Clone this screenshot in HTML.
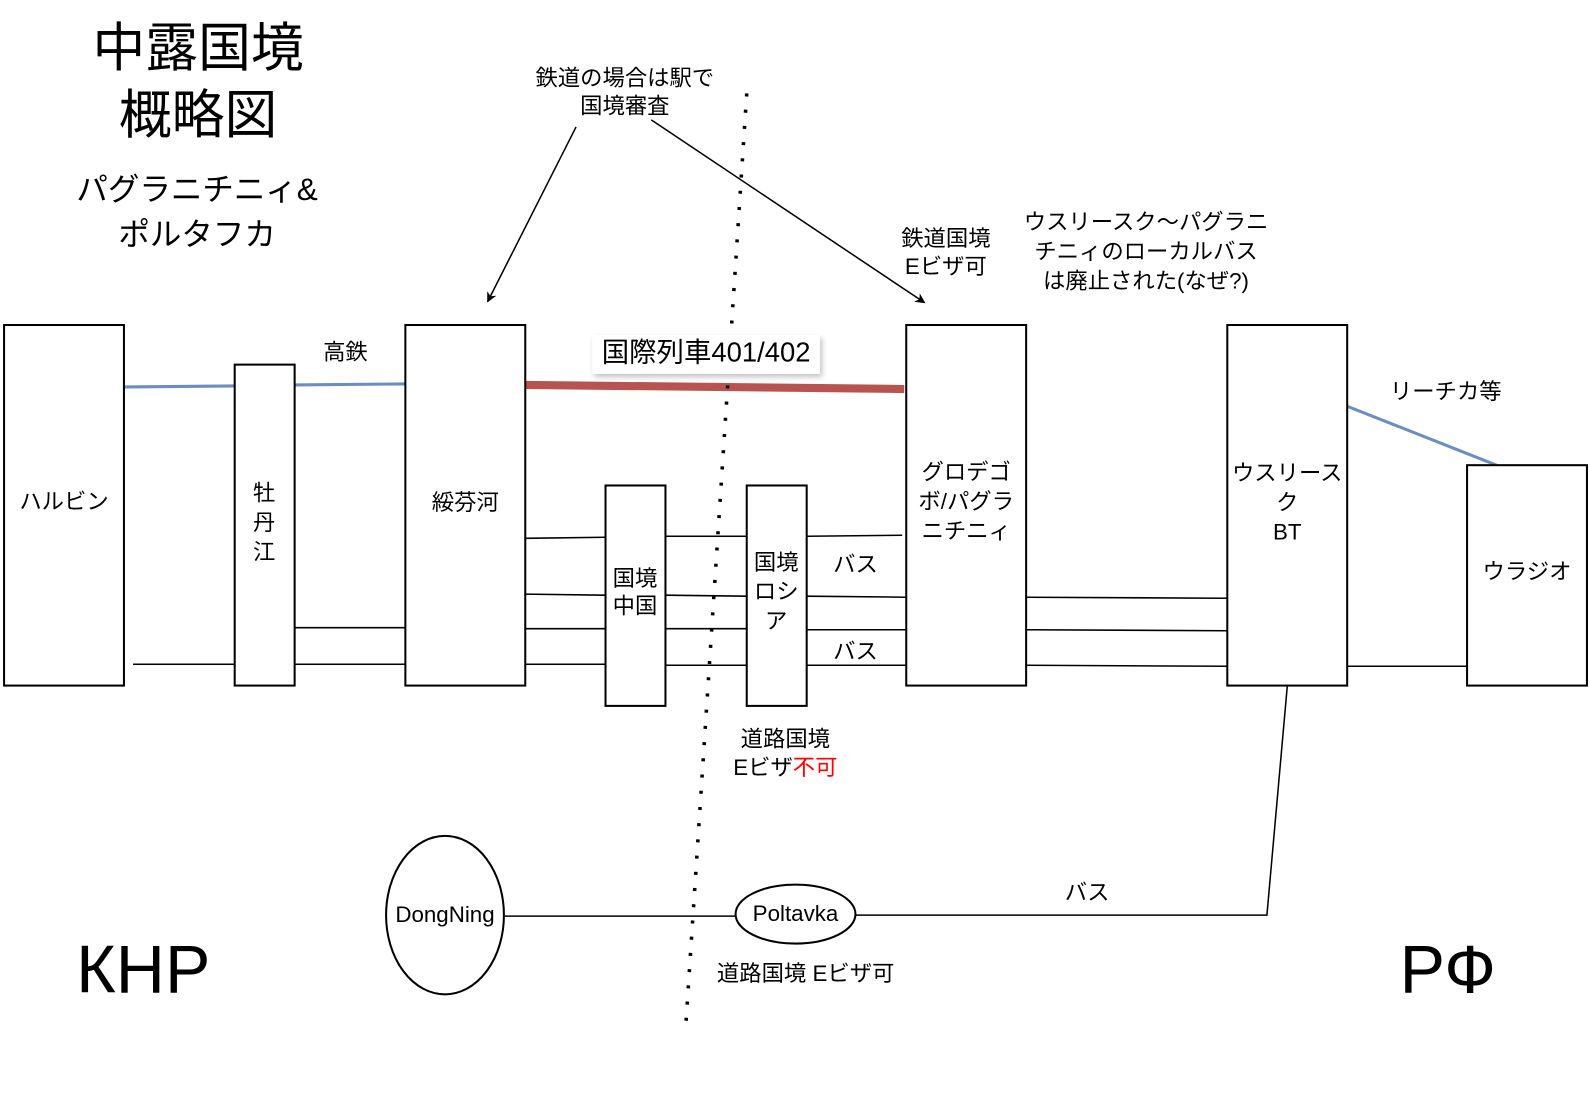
<!DOCTYPE html>
<html><head><meta charset="utf-8"><style>
html,body{margin:0;padding:0;background:#fff;}
svg{display:block;}
text{font-family:"Liberation Sans","Noto Sans CJK JP",sans-serif;fill:#000;}
</style></head><body>
<svg width="1590" height="1102" viewBox="0 0 1565 1085" preserveAspectRatio="none" xmlns="http://www.w3.org/2000/svg">
<defs>
<marker id="ah" markerWidth="10" markerHeight="10" refX="9" refY="5" orient="auto" markerUnits="userSpaceOnUse">
<path d="M0,0 L10,5 L0,10 L3,5 z" fill="#000"/></marker>
<filter id="sh" x="-10%" y="-30%" width="120%" height="160%"><feDropShadow dx="2" dy="3" stdDeviation="3" flood-color="#000" flood-opacity="0.25"/></filter>
</defs>
<g stroke="#000" stroke-width="1.5" fill="none">
<line x1="131" y1="654" x2="231" y2="654"/>
<line x1="290" y1="618" x2="399" y2="618"/>
<line x1="290" y1="654" x2="399" y2="654"/>
<line x1="517" y1="530" x2="596" y2="529"/>
<line x1="517" y1="585" x2="596" y2="586"/>
<line x1="517" y1="619" x2="596" y2="619"/>
<line x1="517" y1="654" x2="596" y2="654"/>
<line x1="655" y1="528" x2="735" y2="528"/>
<line x1="655" y1="586" x2="735" y2="587"/>
<line x1="655" y1="619" x2="735" y2="619"/>
<line x1="655" y1="655" x2="735" y2="655"/>
<line x1="794" y1="528" x2="888" y2="527"/>
<line x1="794" y1="587" x2="892" y2="588"/>
<line x1="794" y1="620" x2="892" y2="620"/>
<line x1="794" y1="655" x2="892" y2="655"/>
<line x1="1010" y1="588" x2="1208" y2="589"/>
<line x1="1010" y1="620" x2="1208" y2="621"/>
<line x1="1010" y1="655" x2="1208" y2="656"/>
<line x1="1326" y1="656" x2="1444" y2="656"/>
<line x1="497" y1="902" x2="724" y2="902"/>
<polyline points="842,901 1247,901 1267,676"/>
<line x1="567" y1="125" x2="480" y2="297" marker-end="url(#ah)"/>
<line x1="641" y1="118" x2="910" y2="298" marker-end="url(#ah)"/>
</g>
<line x1="122" y1="381" x2="231" y2="380" stroke="#6c8ebf" stroke-width="3"/>
<line x1="290" y1="379" x2="399" y2="378" stroke="#6c8ebf" stroke-width="3"/>
<line x1="1326" y1="400" x2="1473" y2="458" stroke="#6c8ebf" stroke-width="3"/>
<line x1="517" y1="379" x2="890" y2="383" stroke="#b85450" stroke-width="8"/>
<line x1="735" y1="92" x2="675" y2="1010" stroke="#000" stroke-width="3.5" stroke-dasharray="3,13"/>
<g stroke="#000" stroke-width="2" fill="#fff">
<rect x="4" y="320" width="118" height="355"/>
<rect x="231" y="359" width="59" height="316"/>
<rect x="399" y="320" width="118" height="355"/>
<rect x="596" y="478" width="59" height="217"/>
<rect x="735" y="478" width="59" height="217"/>
<rect x="892" y="320" width="118" height="355"/>
<rect x="1208" y="320" width="118" height="355"/>
<rect x="1444" y="458" width="118" height="217"/>
<ellipse cx="438" cy="901" rx="58" ry="78"/>
<ellipse cx="783" cy="900" rx="59" ry="29"/>
</g>
<rect x="583" y="330" width="224" height="38" fill="#fff" filter="url(#sh)"/>
<text x="695" y="356" font-size="27" text-anchor="middle">国際列車401/402</text>
<g font-size="52" text-anchor="middle">
<text x="195" y="65">中露国境</text>
<text x="195" y="131">概略図</text>
</g>
<g font-size="31" text-anchor="middle">
<text x="194" y="197">パグラニチニィ&amp;</text>
<text x="194" y="241">ポルタフカ</text>
</g>
<g font-size="67" text-anchor="middle">
<text x="141" y="977">КНР</text>
<text x="1425" y="977">РФ</text>
</g>
<g font-size="22" text-anchor="middle">
<text x="63" y="501">ハルビン</text>
<text x="260" y="493">牡</text><text x="260" y="522">丹</text><text x="260" y="551">江</text>
<text x="458" y="502">綏芬河</text>
<text x="340" y="354">高鉄</text>
<text x="625" y="577">国境</text><text x="625" y="604">中国</text>
<text x="764" y="561">国境</text><text x="764" y="590">ロシ</text><text x="764" y="619">ア</text>
<text x="842" y="563">バス</text>
<text x="842" y="649">バス</text>
<text x="951" y="472">グロデゴ</text><text x="951" y="501">ボ/パグラ</text><text x="951" y="530">ニチニィ</text>
<text x="1267" y="473">ウスリース</text><text x="1267" y="502">ク</text><text x="1267" y="531">BT</text>
<text x="1503" y="570">ウラジオ</text>
<text x="1423" y="393">リーチカ等</text>
<text x="615" y="84">鉄道の場合は駅で</text>
<text x="615" y="112">国境審査</text>
<text x="931" y="242">鉄道国境</text>
<text x="931" y="270">Eビザ可</text>
<text x="1128" y="226">ウスリースク〜パグラニ</text>
<text x="1128" y="255">チニィのローカルバス</text>
<text x="1128" y="284">は廃止された(なぜ?)</text>
<text x="773" y="735">道路国境</text>
<text x="773" y="763">Eビザ<tspan fill="#ff0000">不可</tspan></text>
<text x="438" y="908">DongNing</text>
<text x="783" y="907">Poltavka</text>
<text x="1070" y="886">バス</text>
<text x="793" y="966">道路国境 Eビザ可</text>
</g>
</svg>
</body></html>
